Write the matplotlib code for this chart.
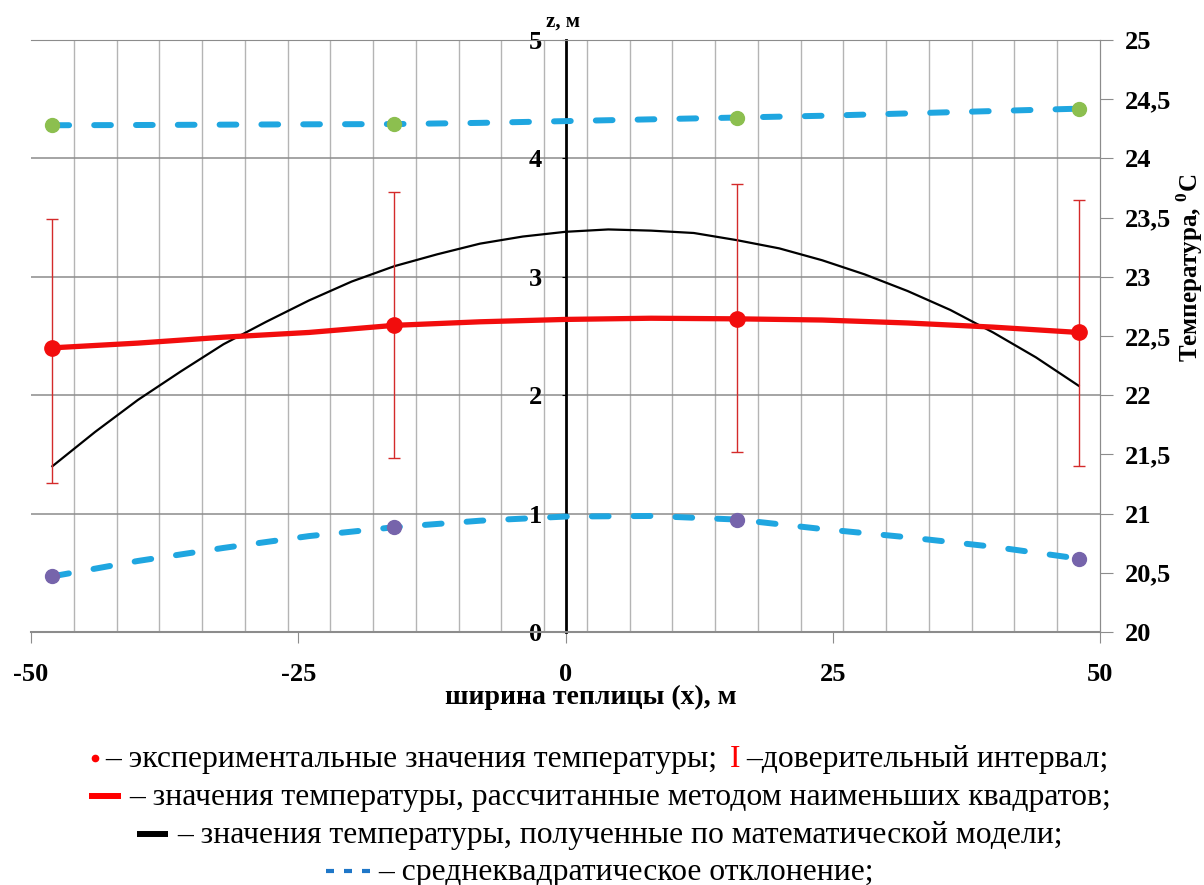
'''plot.py

   Temperature across the greenhouse width: experiment, LSQ fit,
   model curve and std deviation band.
'''

import matplotlib
matplotlib.use('Agg')
import matplotlib.pyplot as plt
from matplotlib.lines import Line2D
from matplotlib.ticker import FuncFormatter

plt.rcParams['font.family'] = 'Liberation Serif'
plt.rcParams['font.weight'] = 'bold'
plt.rcParams['axes.unicode_minus'] = False
plt.rcParams['mathtext.fontset'] = 'custom'
plt.rcParams['mathtext.rm'] = 'Liberation Serif:bold'
plt.rcParams['mathtext.bf'] = 'Liberation Serif:bold'


#
#  Data (x in m, temperature in deg C).
#
x_exp     = [-48, -16, 16, 48]
t_exp     = [22.40, 22.59, 22.645, 22.53]
t_ci_low  = [21.26, 21.47, 21.52, 21.40]
t_ci_high = [23.49, 23.72, 23.78, 23.65]

x_fit = [-48, -40, -32, -24, -16, -8, 0, 8, 16, 24, 32, 40, 48]
t_lsq = [22.40, 22.44, 22.49, 22.53, 22.59, 22.62, 22.64, 22.65,
         22.645, 22.635, 22.61, 22.575, 22.53]
t_std_up  = [24.28, 24.282, 24.285, 24.288, 24.29, 24.30, 24.315, 24.33,
             24.345, 24.36, 24.38, 24.40, 24.42]
t_std_low = [20.47, 20.60, 20.71, 20.81, 20.885, 20.94, 20.975, 20.98,
             20.95, 20.87, 20.80, 20.72, 20.62]

std_up_pts  = [24.28, 24.29, 24.345, 24.42]
std_low_pts = [20.47, 20.885, 20.95, 20.62]

x_model = [-48, -44, -40, -36, -32, -28, -24, -20, -16, -12, -8, -4,
           0, 4, 8, 12, 16, 20, 24, 28, 32, 36, 40, 44, 48]
t_model = [21.40, 21.69, 21.96, 22.20, 22.43, 22.62, 22.80, 22.96, 23.09,
           23.19, 23.28, 23.34, 23.38, 23.40, 23.39, 23.37, 23.31, 23.24,
           23.14, 23.02, 22.88, 22.72, 22.53, 22.32, 22.08]

x_major = [-50, -25, 0, 25, 50]
x_minor = list(range(-50, 51, 4))
z_ticks = [0, 1, 2, 3, 4, 5]
t_ticks = [20, 20.5, 21, 21.5, 22, 22.5, 23, 23.5, 24, 24.5, 25]


W, H = 1204, 885
fig = plt.figure(figsize=(W/100, H/100), dpi=100)
ax = fig.add_axes([31/W, 1 - 632/H, 1069/W, 592/H])
ax.set_xlim(-50, 50)
ax.set_ylim(0, 5)

# grid
ax.set_xticks(x_major)
ax.set_xticks(x_minor, minor=True)
ax.set_yticks(z_ticks)
ax.grid(which='minor', axis='x', color='#b4b4b4', lw=1)
ax.grid(which='major', axis='y', color='#8c8c8c', lw=1.1)
ax.set_axisbelow(True)

# spines: z-axis sits at x = 0
ax.spines['left'].set_position(('data', 0))
ax.spines['left'].set_color('black')
ax.spines['left'].set_linewidth(2)
ax.spines['left'].set_zorder(1.5)
ax.spines['bottom'].set_color('#8c8c8c')
ax.spines['bottom'].set_linewidth(1.5)
ax.spines['top'].set_color('#8c8c8c')
ax.spines['right'].set_color('#8c8c8c')

ax.tick_params(axis='x', which='major', direction='out', length=8,
               color='#8c8c8c', pad=14, labelsize=19)
ax.tick_params(axis='x', which='minor', length=0)
ax.tick_params(axis='y', direction='out', length=3, color='black',
               pad=14, labelsize=19)
ax.xaxis.set_major_formatter(FuncFormatter(lambda v, p: '%d' % v))

# temperature axis
ax2 = ax.twinx()
ax2.set_ylim(20, 25)
ax2.set_yticks(t_ticks)
ax2.yaxis.set_major_formatter(
    FuncFormatter(lambda v, p: ('%g' % v).replace('.', ',')))
for s in ['left', 'top', 'bottom']:
    ax2.spines[s].set_visible(False)
ax2.spines['right'].set_color('#8c8c8c')
ax2.tick_params(axis='y', direction='out', length=9, color='#8c8c8c',
                pad=9, labelsize=19)

# series
blue = '#1fa6e0'
ax2.plot(x_fit, t_std_up, color=blue, lw=4.3, dashes=(2.8, 4.2),
         dash_capstyle='round')
ax2.plot(x_fit, t_std_low, color=blue, lw=4.3, dashes=(2.8, 4.2),
         dash_capstyle='round')
ax2.plot(x_exp, std_up_pts, 'o', color='#8cbf4f', ms=10)
ax2.plot(x_exp, std_low_pts, 'o', color='#7664ab', ms=10)

ax2.plot(x_model, t_model, color='black', lw=1.6)
ax2.plot(x_fit, t_lsq, color='#f20d0d', lw=3.8)
ax2.errorbar(x_exp, t_exp,
             yerr=[[m - lo for m, lo in zip(t_exp, t_ci_low)],
                   [hi - m for m, hi in zip(t_exp, t_ci_high)]],
             fmt='none', ecolor='#d42a2a', elinewidth=1, capsize=4,
             capthick=1)
ax2.plot(x_exp, t_exp, 'o', color='#f20d0d', ms=11)

# axis titles
fig.text(563/W, 1 - 22/H, 'z, м', ha='center', va='center', fontsize=15)
fig.text(591/W, 1 - 697/H, 'ширина теплицы (x), м', ha='center',
         va='center', fontsize=20)
fig.text(1190/W, 1 - 268/H, 'Температура, $^0$C', ha='center',
         va='center', rotation=90, fontsize=18)


#
#  Legend rows under the chart, built from pieces.
#
fig.canvas.draw()
renderer = fig.canvas.get_renderer()


def legend_row(y_base, parts, xc=600, size=22.8):
    # parts: (kind, value, color, gap before in px)
    widths, texts = [], []
    for kind, val, color, gap in parts:
        if kind == 'text':
            t = fig.text(0, 1 - y_base/H, val, color=color, fontsize=size,
                         fontweight='normal', ha='left', va='baseline')
            widths.append(t.get_window_extent(renderer).width)
            texts.append(t)
        else:
            widths.append(val)
            texts.append(None)
    total = sum(widths) + sum(p[3] for p in parts)
    x = xc - total/2
    ymid = 1 - (y_base - 9)/H
    for (kind, val, color, gap), w, t in zip(parts, widths, texts):
        x += gap
        if kind == 'text':
            t.set_x(x/W)
        elif kind == 'dot':
            fig.add_artist(Line2D([(x + w/2)/W], [ymid], marker='o', ms=4.5,
                                  color=color, transform=fig.transFigure))
        elif kind == 'bar':
            fig.add_artist(Line2D([x/W, (x + w)/W], [ymid, ymid], lw=4.3,
                                  color=color, solid_capstyle='butt',
                                  transform=fig.transFigure))
        elif kind == 'dash':
            for k in range(3):
                x0 = x + k*18
                fig.add_artist(Line2D([x0/W, (x0 + 8)/W], [ymid, ymid],
                                      lw=3, color=color,
                                      solid_capstyle='butt',
                                      transform=fig.transFigure))
        x += w


legend_row(767, [('dot', 6, 'red', 0),
                 ('text', '– экспериментальные значения температуры;', 'black', 8),
                 ('text', 'I', 'red', 12),
                 ('text', '–доверительный интервал;', 'black', 6)])
legend_row(805, [('bar', 32, 'red', 0),
                 ('text', '– значения температуры, рассчитанные методом '
                          'наименьших квадратов;', 'black', 8)])
legend_row(843, [('bar', 31, 'black', 0),
                 ('text', '– значения температуры, полученные по '
                          'математической модели;', 'black', 9)])
legend_row(880, [('dash', 44, '#1f77c8', 0),
                 ('text', '– среднеквадратическое отклонение;', 'black', 8)])

fig.savefig('out.png', dpi=100)
